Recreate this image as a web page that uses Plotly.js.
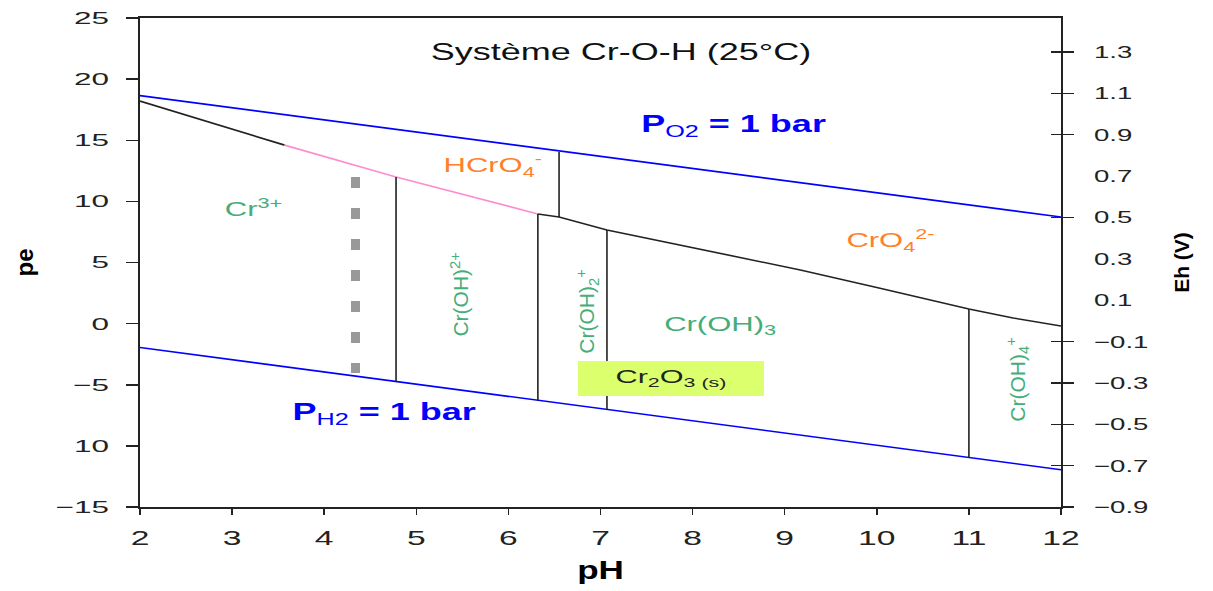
<!DOCTYPE html>
<html>
<head>
<meta charset="utf-8">
<script src="https://cdn.plot.ly/plotly-3.0.1.min.js"></script>
<style>
html, body { margin: 0; padding: 0; background: #ffffff; }
#chart { width: 1213px; height: 591px; }
</style>
</head>
<body>
<div id="chart"></div>
<script>
// ---------------- data ----------------
const o2PH = [2, 12];
const o2Pe = [18.65, 8.72];
const h2PH = [2, 12];
const h2Pe = [-1.95, -11.95];

const cr3UpperPH = [2, 2.8, 3.57];
const cr3UpperPe = [18.2, 16.35, 14.6];
const pinkPH = [3.57, 4.78, 6.32];
const pinkPe = [14.6, 12.0, 8.97];
const cr6LowerPH = [6.32, 6.55, 7.07, 8, 9.17, 10, 11, 11.48, 12];
const cr6LowerPe = [8.97, 8.72, 7.66, 6.2, 4.39, 2.95, 1.2, 0.46, -0.19];

const verticalPH = [4.78, 6.32, 6.55, 7.07, 11];
const verticalTopPe = [12.0, 8.97, 14.04, 7.66, 1.2];
const verticalBottomPe = [-4.78, -6.33, 8.72, -6.98, -11.0];

const dottedPH = [4.34, 4.34];
const dottedPe = [12.0, -4.04];

const pHTicks = [2, 3, 4, 5, 6, 7, 8, 9, 10, 11, 12];
const peTicks = [-15, -10, -5, 0, 5, 10, 15, 20, 25];
const peTickText = ['\u221215', '10', '\u22125', '0', '5', '10', '15', '20', '25'];
const ehTicks = [1.3, 1.1, 0.9, 0.7, 0.5, 0.3, 0.1, -0.1, -0.3, -0.5, -0.7, -0.9];
const ehTickText = ['1.3', '1.1', '0.9', '0.7', '0.5', '0.3', '0.1', '\u22120.1', '\u22120.3', '\u22120.5', '\u22120.7', '\u22120.9'];
const ehMarkedTicks = [1.3, 1.1, 0.9, 0.5, -0.1, -0.3, -0.5, -0.7, -0.9];

const speciesText = ['Cr<sup>3+</sup>', 'HCrO<sub>4</sub><sup>-</sup>', 'CrO<sub>4</sub><sup>2-</sup>',
  'Cr(OH)<sup>2+</sup>', 'Cr(OH)<sub>2</sub><sup>+</sup>', 'Cr(OH)<sub>3</sub>', 'Cr(OH)<sub>4</sub><sup>+</sup>'];
const speciesPH = [3.23, 5.83, 10.15, 5.47, 6.85, 8.30, 11.53];
const speciesPe = [9.54, 12.9, 6.84, 2.34, 0.95, -0.19, -4.61];

const gasText = ['<b>P</b><sub>O2</sub><b> = 1 bar</b>', '<b>P</b><sub>H2</sub><b> = 1 bar</b>'];
const gasPH = [8.44, 4.65];
const gasPe = [16.2, -7.35];

const solidText = 'Cr<sub>2</sub>O<sub>3 (s)</sub>';
const solidPH = 7.765;
const solidPe = -4.49;

// ---------------- styles ----------------
const FONT = 'Liberation Sans, Arial, sans-serif';
const GREEN = '#45ad78';
const ORANGE = '#ff7f2a';
const BLUE = '#0000ff';
const INK = '#222222';

// vertical boundary segments built from the arrays
const vx = [], vy = [];
verticalPH.forEach((p, i) => {
  vx.push(p, p, null);
  vy.push(verticalTopPe[i], verticalBottomPe[i], null);
});

const traces = [
  { x: o2PH, y: o2Pe, mode: 'lines', line: { color: BLUE, width: 1.6 } },
  { x: h2PH, y: h2Pe, mode: 'lines', line: { color: BLUE, width: 1.6 } },
  { x: cr3UpperPH, y: cr3UpperPe, mode: 'lines', line: { color: INK, width: 1.6 } },
  { x: pinkPH, y: pinkPe, mode: 'lines', line: { color: '#ff8ccf', width: 1.6 } },
  { x: cr6LowerPH, y: cr6LowerPe, mode: 'lines', line: { color: INK, width: 1.6 } },
  { x: vx, y: vy, mode: 'lines', line: { color: INK, width: 1.6 } },
  { x: dottedPH, y: dottedPe, mode: 'lines', line: { color: '#999999', width: 9, dash: '11px,20px' } },
  { x: [], y: [], yaxis: 'y2', mode: 'lines' },
  { x: [], y: [], yaxis: 'y3', mode: 'lines' },
  { x: [], y: [], yaxis: 'y4', mode: 'lines' }
].map(t => Object.assign({ showlegend: false, hoverinfo: 'skip' }, t));

const annotations = [];
const annotationStretch = [];
speciesText.forEach((t, i) => {
  const rotated = t.indexOf('(OH)') >= 0 && !t.includes('<sub>3</sub>');
  annotations.push({
    x: speciesPH[i], y: speciesPe[i], xref: 'x', yref: 'y', text: t, showarrow: false,
    textangle: rotated ? -90 : 0,
    font: { family: FONT, size: rotated ? 21 : 20, color: i === 1 || i === 2 ? ORANGE : GREEN },
    xanchor: 'center', yanchor: 'middle'
  });
  annotationStretch.push(rotated ? 1 : 1.55);
});
gasText.forEach((t, i) => {
  annotations.push({
    x: gasPH[i], y: gasPe[i], xref: 'x', yref: 'y', text: t, showarrow: false,
    font: { family: FONT, size: 24, color: BLUE }, xanchor: 'center', yanchor: 'middle'
  });
  annotationStretch.push(1.5);
});
annotations.push({
  x: solidPH, y: solidPe, xref: 'x', yref: 'y', text: solidText, showarrow: false,
  font: { family: FONT, size: 18, color: INK }, bgcolor: '#dcff6e',
  width: 186, height: 35, borderpad: 0, borderwidth: 0, xanchor: 'center', yanchor: 'middle'
});
annotationStretch.push(1.7);

const ehRange = [-0.9, 1.4644];
const rightOverlay = {
  overlaying: 'y', side: 'right', range: ehRange, showgrid: false, zeroline: false,
  showline: false, showticklabels: false, tickvals: ehMarkedTicks,
  tickcolor: INK, tickwidth: 1.5
};

const layout = {
  width: 1213, height: 591,
  paper_bgcolor: '#ffffff', plot_bgcolor: '#ffffff',
  margin: { l: 140, r: 152, t: 18, b: 84 },
  showlegend: false,
  title: {
    text: 'Système Cr-O-H (25°C)', x: 0.512, y: 0.913, xref: 'container', yref: 'container',
    xanchor: 'center', yanchor: 'middle', font: { family: FONT, size: 24, color: '#111' }
  },
  xaxis: {
    range: [2, 12], tickvals: pHTicks, ticks: 'outside', ticklen: 6, tickwidth: 1.5, tickcolor: INK,
    showline: true, linecolor: INK, linewidth: 1.6, mirror: true, showgrid: false, zeroline: false,
    tickfont: { family: FONT, size: 21, color: INK }, ticklabelstandoff: 5,
    title: { text: '<b>pH</b>', font: { family: FONT, size: 25, color: '#000' }, standoff: 14 }
  },
  yaxis: {
    range: [-15, 25], tickvals: peTicks, ticktext: peTickText, ticks: 'outside', ticklen: 12,
    tickwidth: 1.5, tickcolor: INK, showline: true, linecolor: INK, linewidth: 1.6,
    showgrid: false, zeroline: false, ticklabelstandoff: 14,
    tickfont: { family: FONT, size: 17, color: INK },
    title: { text: '<b>pe</b>', font: { family: FONT, size: 24, color: '#000' }, standoff: 40 }
  },
  yaxis2: {
    overlaying: 'y', side: 'right', range: ehRange, tickvals: ehTicks, ticktext: ehTickText,
    ticks: '', showline: true, linecolor: INK, linewidth: 1.6, showgrid: false, zeroline: false,
    ticklabelstandoff: 28, tickfont: { family: FONT, size: 17, color: INK },
    title: { text: '<b>Eh (V)</b>', font: { family: FONT, size: 21, color: '#000' }, standoff: 48 }
  },
  yaxis3: Object.assign({}, rightOverlay, { ticks: 'outside', ticklen: 12 }),
  yaxis4: Object.assign({}, rightOverlay, { ticks: 'inside', ticklen: 10 }),
  annotations: annotations
};

// widen horizontal text glyphs as in the reference picture
function stretchText(el, factor) {
  if (factor === 1 || el.getAttribute('lengthAdjust')) return;
  const len = el.getComputedTextLength();
  if (len > 0) {
    el.setAttribute('textLength', (len * factor).toFixed(1));
    el.setAttribute('lengthAdjust', 'spacingAndGlyphs');
  }
}
function applyStretch() {
  const rules = [['.xtick text', 1.6], ['.ytick text', 1.85], ['.y2tick text', 1.62],
                 ['.gtitle', 1.5], ['.xtitle', 1.4]];
  rules.forEach(([sel, f]) => document.querySelectorAll('#chart ' + sel).forEach(t => stretchText(t, f)));
  document.querySelectorAll('#chart g.annotation').forEach(g => {
    const i = +g.getAttribute('data-index');
    const t = g.querySelector('text.annotation-text');
    if (t && annotationStretch[i]) stretchText(t, annotationStretch[i]);
  });
}

const gd = document.getElementById('chart');
Plotly.newPlot(gd, traces, layout, { displayModeBar: false, staticPlot: true }).then(() => {
  applyStretch();
  gd.on('plotly_afterplot', applyStretch);
});
</script>
</body>
</html>
